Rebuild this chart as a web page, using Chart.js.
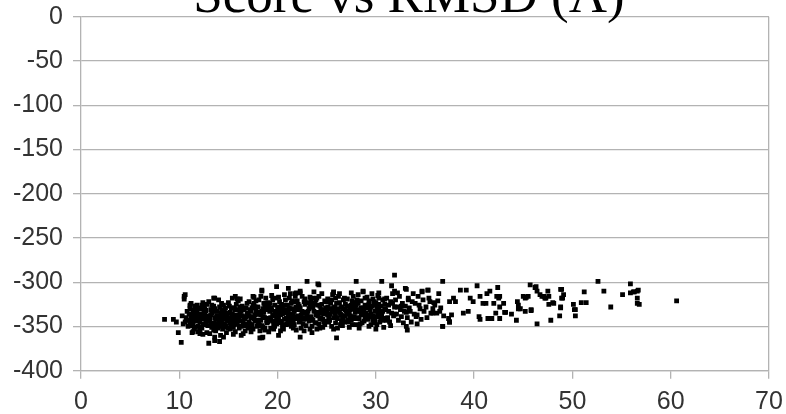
<!DOCTYPE html>
<html>
<head>
<meta charset="utf-8">
<script src="https://cdn.jsdelivr.net/npm/chart.js@4"></script>
<style>
    html, body { margin: 0; padding: 0; background: #fff; }
    #wrap { position: relative; width: 786px; height: 414px; }
</style>
</head>
<body>
<div id="wrap"><canvas id="chart"></canvas></div>
<script>
const chartTitle = 'Score vs RMSD (Å)';
const xTicks = [0, 10, 20, 30, 40, 50, 60, 70];
const yTicks = [0, -50, -100, -150, -200, -250, -300, -350, -400];

// [rmsd, score], dense core first
const coreLeft = [
    [10.3,-338],[10.6,-345],[10.8,-333],[10.9,-350],[10.4,-347],[10.7,-340],[11.0,-336],[10.9,-343],
    [11.1,-330],[11.2,-341],[11.3,-349],[11.4,-335],[11.5,-353],[11.6,-327],[11.7,-344],[11.8,-338],[11.9,-356],[11.2,-324],[11.4,-346],[11.6,-339],[11.8,-331],[11.9,-350],[11.3,-357],[11.7,-334],[11.5,-342],[11.1,-347],
    [12.0,-329],[12.1,-345],[12.2,-336],[12.3,-352],[12.4,-323],[12.5,-341],[12.6,-348],[12.7,-332],[12.8,-357],[12.9,-338],[12.1,-354],[12.3,-326],[12.5,-334],[12.7,-345],[12.9,-349],[12.2,-340],[12.4,-359],[12.6,-330],[12.8,-343],[12.0,-336],
    [13.0,-322],[13.1,-344],[13.2,-337],[13.3,-351],[13.4,-329],[13.5,-346],[13.6,-340],[13.7,-355],[13.8,-333],[13.9,-347],[13.1,-358],[13.3,-335],[13.5,-327],[13.7,-342],[13.9,-352],[13.2,-331],[13.4,-349],[13.6,-362],[13.8,-338],[13.0,-343],[13.5,-354],
    [14.0,-320],[14.1,-339],[14.2,-346],[14.3,-331],[14.4,-353],[14.5,-326],[14.6,-342],[14.7,-336],[14.8,-357],[14.9,-344],[14.1,-350],[14.3,-324],[14.5,-348],[14.7,-329],[14.9,-335],[14.2,-360],[14.4,-341],[14.6,-333],[14.8,-349],[14.0,-345],[14.5,-338],
    [15.0,-323],[15.1,-341],[15.2,-334],[15.3,-350],[15.4,-318],[15.5,-345],[15.6,-329],[15.7,-356],[15.8,-337],[15.9,-347],[15.1,-327],[15.3,-343],[15.5,-359],[15.7,-331],[15.9,-339],[15.2,-353],[15.4,-336],[15.6,-348],[15.8,-325],[15.0,-352],[15.5,-340],
    [16.0,-321],[16.1,-343],[16.2,-336],[16.3,-350],[16.4,-327],[16.5,-345],[16.6,-331],[16.7,-355],[16.8,-339],[16.9,-324],[16.1,-352],[16.3,-333],[16.5,-358],[16.7,-341],[16.9,-347],[16.2,-319],[16.4,-338],[16.6,-349],[16.8,-329],[16.0,-342],
    [17.0,-335],[17.1,-322],[17.2,-347],[17.3,-340],[17.4,-329],[17.5,-353],[17.6,-317],[17.7,-344],[17.8,-332],[17.9,-350],[17.1,-338],[17.3,-356],[17.5,-326],[17.7,-337],[17.9,-343],[17.2,-331],[17.4,-348],[17.6,-341],[17.8,-321],[17.0,-352]
];

const coreMid = [
    [18.0,-328],[18.1,-345],[18.2,-334],[18.3,-316],[18.4,-349],[18.5,-339],[18.6,-324],[18.7,-354],[18.8,-331],[18.9,-343],[18.1,-320],[18.3,-337],[18.5,-351],[18.7,-327],[18.9,-346],[18.2,-355],[18.4,-333],[18.6,-340],[18.8,-318],[18.0,-348],
    [19.0,-323],[19.1,-341],[19.2,-333],[19.3,-352],[19.4,-315],[19.5,-337],[19.6,-347],[19.7,-326],[19.8,-344],[19.9,-335],[19.1,-356],[19.3,-329],[19.5,-320],[19.7,-350],[19.9,-339],[19.2,-343],[19.4,-331],[19.6,-353],[19.8,-318],[19.0,-345],
    [20.0,-330],[20.1,-317],[20.2,-346],[20.3,-337],[20.4,-325],[20.5,-351],[20.6,-333],[20.7,-342],[20.8,-320],[20.9,-348],[20.1,-339],[20.3,-355],[20.5,-328],[20.7,-314],[20.9,-335],[20.2,-322],[20.4,-344],[20.6,-353],[20.8,-331],[20.0,-341],
    [21.0,-326],[21.1,-343],[21.2,-318],[21.3,-336],[21.4,-350],[21.5,-330],[21.6,-345],[21.7,-322],[21.8,-339],[21.9,-354],[21.1,-333],[21.3,-313],[21.5,-341],[21.7,-348],[21.9,-328],[21.2,-337],[21.4,-324],[21.6,-352],[21.8,-316],[21.0,-347],
    [22.0,-321],[22.1,-338],[22.2,-345],[22.3,-329],[22.4,-352],[22.5,-316],[22.6,-335],[22.7,-342],[22.8,-325],[22.9,-349],[22.1,-331],[22.3,-312],[22.5,-340],[22.7,-355],[22.9,-334],[22.2,-327],[22.6,-347],[22.8,-319],
    [23.0,-336],[23.1,-323],[23.2,-344],[23.3,-317],[23.4,-339],[23.5,-350],[23.6,-328],[23.7,-333],[23.8,-346],[23.9,-320],[23.1,-341],[23.3,-353],[23.5,-326],[23.7,-311],[23.9,-337],[23.2,-330],[23.6,-343],[23.8,-324],
    [24.0,-318],[24.1,-334],[24.2,-347],[24.3,-327],[24.4,-340],[24.5,-313],[24.6,-351],[24.7,-331],[24.8,-321],[24.9,-344],[24.1,-338],[24.3,-352],[24.5,-325],[24.7,-336],[24.9,-329],[24.2,-316],[24.6,-342],[24.8,-348],
    [25.0,-332],[25.1,-319],[25.2,-345],[25.3,-336],[25.4,-324],[25.5,-350],[25.6,-314],[25.7,-340],[25.8,-328],[25.9,-346],[25.1,-337],[25.3,-322],[25.5,-333],[25.7,-353],[25.9,-318],[25.2,-341],[25.6,-330],[25.8,-335],
    [26.0,-324],[26.1,-341],[26.2,-316],[26.3,-334],[26.4,-348],[26.5,-328],[26.6,-339],[26.7,-320],[26.8,-345],[26.9,-331],[26.1,-352],[26.3,-313],[26.5,-337],[26.7,-343],[26.9,-325],[26.2,-330],[26.6,-349],[26.8,-318]
];

const coreRight = [
    [27.0,-333],[27.1,-319],[27.2,-343],[27.3,-327],[27.4,-338],[27.5,-312],[27.6,-348],[27.7,-330],[27.8,-323],[27.9,-341],[27.1,-336],[27.3,-351],[27.5,-326],[27.7,-316],[27.9,-334],[27.2,-345],[27.6,-321],[27.8,-339],
    [28.0,-326],[28.1,-340],[28.2,-314],[28.3,-333],[28.4,-347],[28.5,-321],[28.6,-337],[28.7,-329],[28.8,-344],[28.9,-318],[28.1,-331],[28.3,-352],[28.5,-336],[28.7,-311],[28.9,-340],[28.2,-324],[28.6,-346],[28.8,-332],
    [29.0,-335],[29.1,-317],[29.2,-342],[29.3,-325],[29.4,-331],[29.5,-348],[29.6,-313],[29.7,-338],[29.8,-322],[29.9,-344],[29.1,-329],[29.3,-350],[29.5,-336],[29.7,-319],[29.9,-333],[29.2,-340],[29.6,-327],[29.8,-346],
    [30.0,-323],[30.1,-339],[30.2,-315],[30.3,-332],[30.4,-345],[30.5,-327],[30.6,-336],[30.7,-320],[30.8,-341],[30.9,-330],[30.1,-348],[30.3,-318],[30.5,-334],[30.7,-343],[30.9,-325],[30.2,-337],
    [31.0,-331],[31.1,-318],[31.2,-340],[31.3,-326],[31.4,-345],[31.5,-322],[31.6,-335],[31.7,-313],[31.8,-338],[31.9,-328],[31.1,-343],[31.3,-333],[31.5,-349],[31.7,-324],[31.9,-336],
    [32.0,-320],[32.1,-336],[32.2,-328],[32.3,-343],[32.4,-316],[32.5,-331],[32.6,-339],[32.7,-324],[32.8,-346],[32.9,-333],[32.2,-312],[32.6,-327],
    [33.0,-327],[33.2,-340],[33.3,-318],[33.5,-333],[33.6,-345],[33.7,-322],[33.9,-336],[33.4,-329],[33.8,-313],[33.1,-334],
    [34.0,-324],[34.2,-337],[34.3,-316],[34.5,-330],[34.6,-342],[34.8,-320],[34.9,-333],[34.4,-326],[34.1,-339],
    [35.1,-328],[35.4,-318],[35.6,-335],[35.9,-323],[35.2,-340],[35.8,-330],
    [36.3,-321],[36.6,-329],[36.9,-338],[36.4,-313]
];

// extra points inside the solid black middle of the cloud
const coreFill = [
    [11.3,-338],[11.6,-351],[11.8,-326],[11.5,-332],[11.9,-343],[11.2,-345],
    [12.2,-330],[12.4,-347],[12.6,-337],[12.8,-325],[12.9,-342],[12.1,-351],[12.5,-328],
    [13.1,-339],[13.3,-326],[13.5,-350],[13.7,-333],[13.9,-341],[13.2,-347],[13.6,-330],
    [14.1,-328],[14.3,-344],[14.5,-333],[14.7,-351],[14.9,-339],[14.2,-335],[14.6,-347],
    [15.1,-335],[15.3,-329],[15.5,-351],[15.7,-343],[15.9,-331],[15.2,-346],[15.6,-338],
    [16.1,-337],[16.3,-344],[16.5,-330],[16.7,-348],[16.9,-335],[16.2,-328],[16.6,-341],
    [17.1,-345],[17.3,-333],[17.5,-339],[17.7,-328],[17.9,-336],[17.2,-351],[17.6,-324],
    [18.1,-336],[18.3,-343],[18.5,-330],[18.7,-340],[18.9,-325],[18.2,-349],[18.6,-334],
    [19.1,-328],[19.3,-340],[19.5,-344],[19.7,-333],[19.9,-347],[19.2,-324],[19.6,-338],
    [20.1,-328],[20.3,-345],[20.5,-336],[20.7,-326],[20.9,-341],[20.2,-333],[20.6,-348],
    [21.1,-338],[21.3,-345],[21.5,-321],[21.7,-333],[21.9,-341],[21.2,-329],[21.6,-336],
    [22.1,-325],[22.3,-343],[22.5,-333],[22.7,-322],[22.9,-340],[22.4,-337],
    [23.1,-333],[23.3,-328],[23.5,-342],[23.7,-325],[23.9,-346],[23.4,-321],
    [24.1,-326],[24.3,-341],[24.5,-335],[24.7,-345],[24.9,-322],[24.4,-331],
    [25.1,-328],[25.3,-343],[25.5,-320],[25.7,-333],[25.9,-339],[25.4,-330],
    [26.1,-333],[26.3,-323],[26.5,-344],[26.7,-330],[26.9,-338],[26.4,-336],
    [27.1,-327],[27.3,-335],[27.5,-343],[27.7,-323],[27.9,-328],[27.4,-331],
    [28.1,-320],[28.3,-341],[28.5,-329],[28.7,-336],[28.9,-326],[28.4,-333],
    [29.1,-337],[29.3,-321],[29.5,-328],[29.7,-343],[29.9,-326],[29.4,-339],
    [30.1,-328],[30.3,-325],[30.5,-341],[30.7,-333],[30.9,-319]
];

const tail = [
    [36.8,-299],[40.3,-304],[45.7,-303],[46.2,-306],[47.5,-310],[48.9,-308],[52.6,-299],[53.2,-310],[55.9,-302],
    [55.1,-314],[56.2,-311],[56.7,-309],[56.6,-318],[56.8,-325],[60.6,-321],[53.9,-328],[51.2,-311],[50.9,-323],
    [51.4,-323],[50.1,-325],[50.2,-331],[50.3,-338],[48.7,-338],[48.8,-329],[49.0,-318],[49.1,-314],[47.8,-343],
    [46.4,-347],[48.1,-324],[47.1,-316],[47.3,-318],[46.7,-314],[45.8,-331],[45.2,-318],[45.5,-316],[44.7,-330],
    [44.5,-326],[44.3,-343],[43.8,-336],[43.2,-334],[42.4,-306],[42.3,-316],[42.5,-318],[41.6,-310],[41.3,-313],
    [42.0,-324],[42.6,-328],[42.6,-341],[41.8,-341],[41.4,-341],[42.2,-335],[40.6,-316],[40.9,-324],[41.2,-324],
    [40.5,-339],[40.6,-342],[39.6,-318],[39.9,-322],[39.2,-309],[38.6,-309],[39.4,-333],[38.9,-335],[37.9,-318],
    [38.1,-322],[37.5,-322],[37.7,-337],[37.5,-345],[36.8,-350],[36.5,-333],[36.2,-335],[35.8,-335],[35.5,-322],
    [36.0,-326],[35.3,-309],[34.7,-310],[33.2,-354],[33.1,-308],[34.2,-347],[46.3,-305],[46.4,-310],[46.9,-316],
    [47.2,-318],[47.6,-316],[48.8,-308],[48.9,-318],[48.0,-323],[47.6,-325],[48.8,-328],[45.8,-332],[45.2,-333],
    [44.5,-330],[43.1,-334],[44.4,-322],[45.0,-316],[45.3,-317],[43.0,-324],[42.6,-316],[50.3,-331],[55.9,-312],
    [56.3,-311],[56.6,-310],[56.6,-324]
];

const outliers = [
    [31.9,-292],[28.0,-299],[30.6,-299],[31.6,-304],[33.0,-307],[28.7,-310],[30.3,-312],[31.9,-310],[34.7,-311],
    [35.3,-309],[33.3,-320],[33.1,-350],[30.0,-353],[30.8,-351],[28.0,-348],[36.8,-350],[37.5,-345],[37.4,-341],
    [18.4,-309],[19.9,-305],[21.1,-307],[22.3,-310],[21.8,-313],[24.2,-303],[25.7,-311],[23.6,-318],[18.5,-362],
    [18.2,-363],[20.1,-360],[22.3,-362],[26.0,-363],[23.5,-357],[18.7,-352],[8.5,-342],[9.4,-342],[9.7,-345],
    [9.9,-357],[10.2,-368],[10.5,-316],[10.5,-319],[11.1,-327],[13.5,-318],[13.0,-369],[13.6,-366],[14.1,-367],
    [14.5,-362],[15.7,-316],[15.9,-319],[11.4,-356],[12.1,-358],[23.0,-299],[24.1,-302],[18.4,-310],[21.9,-312],
    [25.7,-312],[13.6,-318],[17.5,-316],[16.3,-360],[18.4,-363],[24.0,-353],[10.6,-314],[11.1,-326]
];

const allPoints = coreLeft.concat(coreMid, coreRight, coreFill, tail, outliers)
    .map(p => ({ x: p[0], y: p[1] }));

const gridGray = '#b3b3b3';
const labelFont = { family: '"Liberation Sans", Arial, sans-serif', size: 25 };

const titlePlugin = {
    id: 'cutTitle',
    afterDraw(chart) {
        const c = chart.ctx;
        c.save();
        c.font = '53px "Liberation Serif", "Times New Roman", serif';
        c.fillStyle = '#000';
        c.textAlign = 'center';
        c.textBaseline = 'alphabetic';
        c.fillText(chartTitle, 409, 12);
        c.restore();
    }
};

const ctx = document.getElementById('chart').getContext('2d');
new Chart(ctx, {
    type: 'scatter',
    data: {
        datasets: [{
            label: chartTitle,
            data: allPoints,
            pointStyle: 'rect',
            pointRadius: 3.4,
            backgroundColor: '#000',
            borderColor: '#000',
            borderWidth: 0
        }]
    },
    options: {
        animation: false,
        responsive: true,
        maintainAspectRatio: false,
        layout: { padding: { top: 16.7, right: 17, bottom: 0, left: 0 } },
        plugins: { legend: { display: false }, tooltip: { enabled: false }, title: { display: false } },
        scales: {
            x: {
                type: 'linear',
                min: 0,
                max: 70,
                afterBuildTicks: s => { s.ticks = xTicks.map(v => ({ value: v })); },
                afterFit: s => { s.height = 43.3; s.paddingLeft = 0; s.paddingRight = 0; },
                ticks: { font: labelFont, color: '#333', padding: 8, maxRotation: 0 },
                grid: {
                    color: c => (c.tick && c.tick.value === 70) ? gridGray : 'rgba(0,0,0,0)',
                    tickColor: gridGray,
                    tickLength: 8,
                    lineWidth: 1.3
                },
                border: { color: gridGray, width: 1.3 }
            },
            y: {
                type: 'linear',
                min: -400,
                max: 0,
                afterBuildTicks: s => { s.ticks = yTicks.map(v => ({ value: v })); },
                afterFit: s => { s.width = 81; s.paddingTop = 0; s.paddingBottom = 0; },
                ticks: { font: labelFont, color: '#333', padding: 10 },
                grid: { color: gridGray, tickLength: 8, lineWidth: 1.3 },
                border: { color: gridGray, width: 1.3 }
            }
        }
    },
    plugins: [titlePlugin]
});
</script>
</body>
</html>
